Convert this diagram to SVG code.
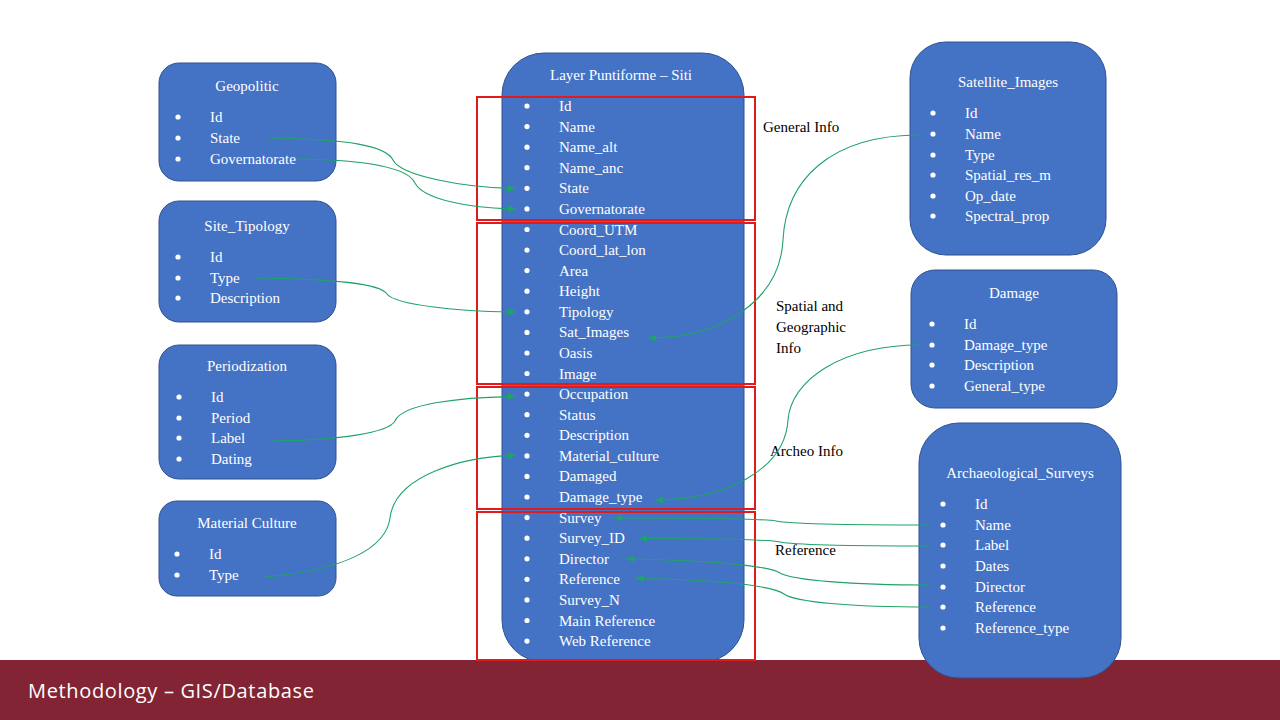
<svg xmlns="http://www.w3.org/2000/svg" width="1280" height="720" viewBox="0 0 1280 720">
<style>
.box{fill:#4472C4;stroke:#2F528F;stroke-width:1}
.t{font-family:"Liberation Serif","Times New Roman",serif;font-size:15px;fill:#fff}
.tm{font-family:"Liberation Serif","Times New Roman",serif;font-size:15px;fill:#fff;text-anchor:middle}
.lbl{font-family:"Liberation Serif","Times New Roman",serif;font-size:15px;fill:#000}
.b{fill:#fff}
.grp{fill:none;stroke:#E01B1B;stroke-width:2}
.c{fill:none;stroke:#1FA367;stroke-width:1.1}
</style>
<defs>
<marker id="ah" markerWidth="8" markerHeight="7" refX="8" refY="3.5" orient="auto" markerUnits="userSpaceOnUse">
<path d="M0,0 L8,3.5 L0,7 Z" fill="#1FA367"/>
</marker>
</defs>
<rect width="1280" height="720" fill="#fff"/>

<g id="geopolitic">
<rect class="box" x="159" y="63" width="177" height="118" rx="20"/>
<text class="tm" x="247" y="91">Geopolitic</text>
<circle class="b" cx="178" cy="117" r="2.6"/><text class="t" x="210" y="122">Id</text>
<circle class="b" cx="178" cy="138" r="2.6"/><text class="t" x="210" y="143">State</text>
<circle class="b" cx="178" cy="159" r="2.6"/><text class="t" x="210" y="164">Governatorate</text>
</g>

<g id="site_tipology">
<rect class="box" x="159" y="201" width="177" height="121" rx="20"/>
<text class="tm" x="247" y="231">Site_Tipology</text>
<circle class="b" cx="178" cy="257" r="2.6"/><text class="t" x="210" y="262">Id</text>
<circle class="b" cx="178" cy="278" r="2.6"/><text class="t" x="210" y="283">Type</text>
<circle class="b" cx="178" cy="298" r="2.6"/><text class="t" x="210" y="303">Description</text>
</g>

<g id="periodization">
<rect class="box" x="159" y="345" width="177" height="134" rx="20"/>
<text class="tm" x="247" y="371">Periodization</text>
<circle class="b" cx="179" cy="397" r="2.6"/><text class="t" x="211" y="402">Id</text>
<circle class="b" cx="179" cy="418" r="2.6"/><text class="t" x="211" y="423">Period</text>
<circle class="b" cx="179" cy="438" r="2.6"/><text class="t" x="211" y="443">Label</text>
<circle class="b" cx="179" cy="459" r="2.6"/><text class="t" x="211" y="464">Dating</text>
</g>

<g id="material_culture">
<rect class="box" x="159" y="501" width="177" height="95" rx="18"/>
<text class="tm" x="247" y="528">Material  Culture</text>
<circle class="b" cx="177" cy="554" r="2.6"/><text class="t" x="209" y="559">Id</text>
<circle class="b" cx="177" cy="575" r="2.6"/><text class="t" x="209" y="580">Type</text>
</g>

<g id="satellite_images">
<rect class="box" x="910" y="42" width="196" height="213" rx="36"/>
<text class="tm" x="1008" y="87">Satellite_Images</text>
<circle class="b" cx="933" cy="113" r="2.6"/><text class="t" x="965" y="118">Id</text>
<circle class="b" cx="933" cy="134" r="2.6"/><text class="t" x="965" y="139">Name</text>
<circle class="b" cx="933" cy="155" r="2.6"/><text class="t" x="965" y="160">Type</text>
<circle class="b" cx="933" cy="175" r="2.6"/><text class="t" x="965" y="180">Spatial_res_m</text>
<circle class="b" cx="933" cy="196" r="2.6"/><text class="t" x="965" y="201">Op_date</text>
<circle class="b" cx="933" cy="216" r="2.6"/><text class="t" x="965" y="221">Spectral_prop</text>
</g>

<g id="damage">
<rect class="box" x="911" y="270" width="206" height="138" rx="24"/>
<text class="tm" x="1014" y="298">Damage</text>
<circle class="b" cx="932" cy="324" r="2.6"/><text class="t" x="964" y="329">Id</text>
<circle class="b" cx="932" cy="345" r="2.6"/><text class="t" x="964" y="350">Damage_type</text>
<circle class="b" cx="932" cy="365" r="2.6"/><text class="t" x="964" y="370">Description</text>
<circle class="b" cx="932" cy="386" r="2.6"/><text class="t" x="964" y="391">General_type</text>
</g>

<g id="layer_siti">
<rect class="box" x="502" y="53" width="242" height="609" rx="42"/>
<text class="tm" x="621" y="80">Layer Puntiforme  – Siti</text>
<g>
<circle class="b" cx="527" cy="106" r="2.6"/><text class="t" x="559" y="111">Id</text>
<circle class="b" cx="527" cy="126.6" r="2.6"/><text class="t" x="559" y="131.6">Name</text>
<circle class="b" cx="527" cy="147.2" r="2.6"/><text class="t" x="559" y="152.2">Name_alt</text>
<circle class="b" cx="527" cy="167.7" r="2.6"/><text class="t" x="559" y="172.7">Name_anc</text>
<circle class="b" cx="527" cy="188.3" r="2.6"/><text class="t" x="559" y="193.3">State</text>
<circle class="b" cx="527" cy="208.9" r="2.6"/><text class="t" x="559" y="213.9">Governatorate</text>
<circle class="b" cx="527" cy="229.5" r="2.6"/><text class="t" x="559" y="234.5">Coord_UTM</text>
<circle class="b" cx="527" cy="250.1" r="2.6"/><text class="t" x="559" y="255.1">Coord_lat_lon</text>
<circle class="b" cx="527" cy="270.6" r="2.6"/><text class="t" x="559" y="275.6">Area</text>
<circle class="b" cx="527" cy="291.2" r="2.6"/><text class="t" x="559" y="296.2">Height</text>
<circle class="b" cx="527" cy="311.8" r="2.6"/><text class="t" x="559" y="316.8">Tipology</text>
<circle class="b" cx="527" cy="332.4" r="2.6"/><text class="t" x="559" y="337.4">Sat_Images</text>
<circle class="b" cx="527" cy="353" r="2.6"/><text class="t" x="559" y="358">Oasis</text>
<circle class="b" cx="527" cy="373.5" r="2.6"/><text class="t" x="559" y="378.5">Image</text>
<circle class="b" cx="527" cy="394.1" r="2.6"/><text class="t" x="559" y="399.1">Occupation</text>
<circle class="b" cx="527" cy="414.7" r="2.6"/><text class="t" x="559" y="419.7">Status</text>
<circle class="b" cx="527" cy="435.3" r="2.6"/><text class="t" x="559" y="440.3">Description</text>
<circle class="b" cx="527" cy="455.9" r="2.6"/><text class="t" x="559" y="460.9">Material_culture</text>
<circle class="b" cx="527" cy="476.4" r="2.6"/><text class="t" x="559" y="481.4">Damaged</text>
<circle class="b" cx="527" cy="497" r="2.6"/><text class="t" x="559" y="502">Damage_type</text>
<circle class="b" cx="527" cy="517.6" r="2.6"/><text class="t" x="559" y="522.6">Survey</text>
<circle class="b" cx="527" cy="538.2" r="2.6"/><text class="t" x="559" y="543.2">Survey_ID</text>
<circle class="b" cx="527" cy="558.8" r="2.6"/><text class="t" x="559" y="563.8">Director</text>
<circle class="b" cx="527" cy="579.3" r="2.6"/><text class="t" x="559" y="584.3">Reference</text>
<circle class="b" cx="527" cy="599.9" r="2.6"/><text class="t" x="559" y="604.9">Survey_N</text>
<circle class="b" cx="527" cy="620.5" r="2.6"/><text class="t" x="559" y="625.5">Main  Reference</text>
<circle class="b" cx="527" cy="641.1" r="2.6"/><text class="t" x="559" y="646.1">Web Reference</text>
</g>
</g>

<g id="footer">
<rect x="0" y="660" width="1280" height="60" fill="#822433"/>
<text x="28" y="698" font-family="'Open Sans','Liberation Sans',sans-serif" font-size="20" fill="#fff" textLength="286">Methodology – GIS/Database</text>
</g>

<g id="archaeological_surveys">
<rect class="box" x="919" y="423" width="202" height="255" rx="40"/>
<text class="tm" x="1020" y="478">Archaeological_Surveys</text>
<circle class="b" cx="943" cy="504" r="2.6"/><text class="t" x="975" y="509">Id</text>
<circle class="b" cx="943" cy="525" r="2.6"/><text class="t" x="975" y="530">Name</text>
<circle class="b" cx="943" cy="545" r="2.6"/><text class="t" x="975" y="550">Label</text>
<circle class="b" cx="943" cy="566" r="2.6"/><text class="t" x="975" y="571">Dates</text>
<circle class="b" cx="943" cy="587" r="2.6"/><text class="t" x="975" y="592">Director</text>
<circle class="b" cx="943" cy="607" r="2.6"/><text class="t" x="975" y="612">Reference</text>
<circle class="b" cx="943" cy="628" r="2.6"/><text class="t" x="975" y="633">Reference_type</text>
</g>

<g id="groups">
<rect class="grp" x="477" y="97" width="278" height="123"/>
<rect class="grp" x="477" y="223" width="278" height="161"/>
<rect class="grp" x="477" y="387" width="278" height="122"/>
<rect class="grp" x="477" y="512" width="278" height="148"/>
<text class="lbl" x="763" y="132">General  Info</text>
<text class="lbl" x="776" y="311">Spatial  and</text>
<text class="lbl" x="776" y="332">Geographic</text>
<text class="lbl" x="776" y="353">Info</text>
<text class="lbl" x="770" y="456">Archeo  Info</text>
<text class="lbl" x="775" y="555">Reference</text>
</g>

<g id="connectors">
<path class="c" marker-end="url(#ah)" d="M268,138 C350,139 386,146 393,160 C401,176 465,188 516,188.5"/>
<path class="c" marker-end="url(#ah)" d="M298,159 C372,160 408,168 415,183 C423,199 468,208.5 516,209"/>
<path class="c" marker-end="url(#ah)" d="M255,278 C340,279 380,284 387,294 C395,305 460,311.5 516,312"/>
<path class="c" marker-end="url(#ah)" d="M272,441 C340,440 388,433 395,421 C402,404 460,397 516,396.5"/>
<path class="c" marker-end="url(#ah)" d="M265,577 C345,570 386,548 390,518 C395,475 465,456 516,455.5"/>
<path class="c" marker-end="url(#ah)" d="M920,135 C830,135 786,180 783,240 C780,300 722,338 648,338"/>
<path class="c" marker-end="url(#ah)" d="M920,345 C842,345 791,380 788,420 C785,470 725,500 655,500"/>
<path class="c" marker-end="url(#ah)" d="M930,525 C850,525 790,524 776,521 C762,518.5 690,518 614,518"/>
<path class="c" marker-end="url(#ah)" d="M930,546 C860,546 795,545 780,542 C765,539 700,538.5 639,538.5"/>
<path class="c" marker-end="url(#ah)" d="M930,585 C850,585 792,580 780,573 C768,565 700,560 626,559"/>
<path class="c" marker-end="url(#ah)" d="M930,607 C850,607 795,602 784,594 C772,585 705,579 636,578.5"/>
</g>
</svg>
